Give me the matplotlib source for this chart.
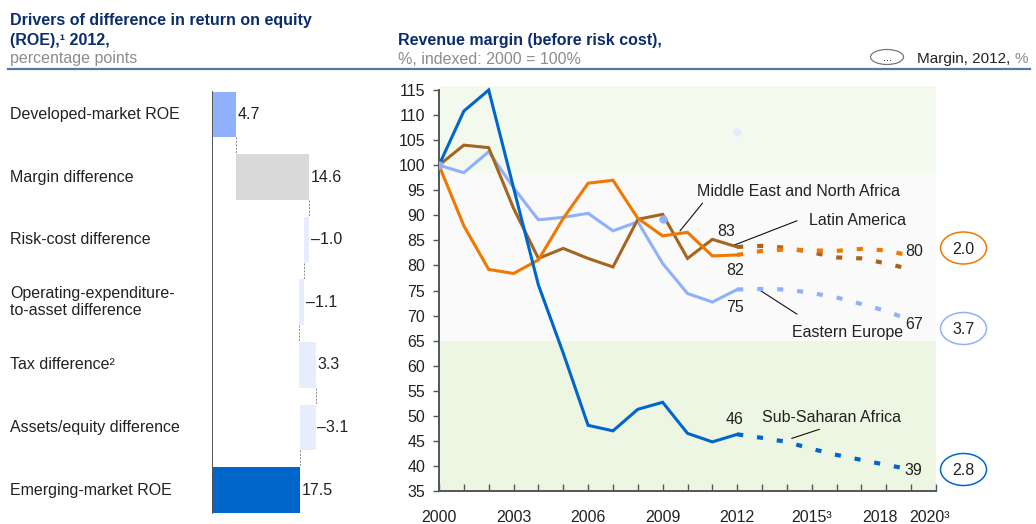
import matplotlib.pyplot as plt
from matplotlib.patches import Ellipse
from matplotlib import transforms

plt.rcParams['font.family'] = ['Liberation Sans', 'DejaVu Sans']
plt.rcParams['font.size'] = 11.5

## waterfall: drivers of ROE difference, 2012
drivers = ["Developed-market ROE", "Margin difference", "Risk-cost difference",
           "Operating-expenditure-\nto-asset difference", "Tax difference\u00b2",
           "Assets/equity difference", "Emerging-market ROE"]
driver_vals = [4.7, 14.6, -1.0, -1.1, 3.3, -3.1, 17.5]
driver_colors = ["#8fb0fb", "#d9d9d9", "#e6edfc", "#e6edfc", "#e6edfc", "#e6edfc", "#0066cc"]

## revenue margin, indexed 2000 = 100
years = list(range(2000, 2013))
ssa = [100, 110.8, 115, 95.5, 76.1, 62.5, 48.1, 47.0, 51.3, 52.7, 46.5, 44.8, 46.3]
ee = [100, 98.5, 102.7, 95.5, 89.1, 89.6, 90.4, 86.9, 88.7, 80.4, 74.4, 72.7, 75.2]
mena = [100, 104.0, 103.5, 91.4, 81.4, 83.4, 81.4, 79.7, 89.2, 90.2, 81.4, 85.2, 83.7]
latam = [100, 87.9, 79.2, 78.4, 81.1, 89.4, 96.4, 97.0, 89.4, 85.9, 86.6, 81.9, 82.1]

## forecast
fyears = list(range(2012, 2020))
ssa_f = [46.3, 45.6, 44.8, 43.4, 42.2, 41.2, 40.2, 39.3]
ee_f = [75.2, 75.3, 75.2, 74.5, 73.6, 72.3, 70.9, 69.0]
mena_f = [83.7, 83.9, 83.5, 82.6, 81.6, 81.4, 80.4, 79.2]
latam_f = [82.1, 82.9, 83.2, 83.0, 82.9, 83.3, 83.0, 81.9]

end_labels = ["80", "67", "39"]
margins_2012 = ["2.0", "3.7", "2.8"]

xtick_labels = {2000: "2000", 2003: "2003", 2006: "2006", 2009: "2009", 2012: "2012",
                2015: "2015\u00b3", 2018: "2018", 2020: "2020\u00b3"}

C_SSA = "#0066cc"
C_EE = "#8fb0fb"
C_MENA = "#a4661f"
C_LATAM = "#f07800"
NAVY = "#0b2d6b"
GREY = "#8c8c8c"

W, H = 1036, 524
fig = plt.figure(figsize=(W / 100, H / 100), dpi=100)

def box(l, t, r, b):
    return [l / W, 1 - b / H, (r - l) / W, (b - t) / H]

## overlay for headers, pixel coords
ov = fig.add_axes([0, 0, 1, 1])
ov.set_xlim(0, W)
ov.set_ylim(H, 0)
ov.axis("off")
ov.text(10, 20, "Drivers of difference in return on equity", fontweight="bold", color=NAVY, va="center")
ov.text(10, 40, "(ROE),\u00b9 2012,", fontweight="bold", color=NAVY, va="center")
ov.text(10, 59, "percentage points", color=GREY, va="center")
ov.text(398, 40, "Revenue margin (before risk cost),", fontweight="bold", color=NAVY, va="center")
ov.text(398, 59, "%, indexed: 2000 = 100%", color=GREY, va="center")
ov.add_patch(Ellipse((887, 57), 33, 15, fill=False, ec="#777777", lw=0.9))
ov.text(887, 58, "...", ha="center", va="center", fontsize=8)
leg = ov.text(917, 59, "Margin, 2012, ", va="center", color="#222222", fontsize=11)
ov.annotate("%", xy=(1, 0.5), xycoords=leg, va="center", ha="left", color=GREY, fontsize=11)
ov.plot([8, 1030], [68.5, 68.5], color="#5876a8", lw=1.6)

## ---- waterfall
ax1 = fig.add_axes(box(212, 84, 390, 521))
ax1.set_xlim(0, 178 / 5.05)
ax1.set_ylim(6.494, -0.487)
ax1.axis("off")

running = 0
ends = []
for i, v in enumerate(driver_vals):
    if i == 0 or i == len(driver_vals) - 1:
        left, right = 0, v
        running = v
    else:
        left, right = running, running + v
        running = running + v
    ax1.barh(i, right - left, left=left, height=0.73, color=driver_colors[i])
    lab = ("%.1f" % v).replace("-", "\u2013")
    ax1.text(max(left, right) + 0.3, i, lab, va="center", ha="left", color="#222222")
    ends.append(right)

for i in range(len(driver_vals) - 1):
    ax1.plot([ends[i], ends[i]], [i + 0.365, i + 0.635], color="#888888", lw=0.7, ls=(0, (2, 1.5)))

ax1.plot([0, 0], [-0.36, 6.37], color="#555555", lw=1.4)

tr = transforms.blended_transform_factory(fig.transFigure, ax1.transData)
for i, name in enumerate(drivers):
    ax1.text(10 / W, i, name, transform=tr, va="center", ha="left", color="#222222",
             linespacing=1.15)

## ---- line chart
ax2 = fig.add_axes(box(439, 86, 936, 491))
ax2.set_xlim(2000, 2020)
ax2.set_ylim(35, 115.8)
ax2.axhspan(35, 65, color="#edf6e2", lw=0, zorder=0)
ax2.axhspan(65, 98.4, color="#fafafa", lw=0, zorder=0)
ax2.axhspan(98.4, 115.8, color="#f4f9ee", lw=0, zorder=0)

for vals, fvals, col in [(ee, ee_f, C_EE), (mena, mena_f, C_MENA),
                         (latam, latam_f, C_LATAM), (ssa, ssa_f, C_SSA)]:
    ax2.plot(years, vals, color=col, lw=2.2, solid_joinstyle="miter", zorder=3)
    ax2.plot(fyears, fvals, color=col, lw=3, ls=(0, (1.45, 3.35)), dash_capstyle="butt", zorder=3)

ax2.plot([2000, 2009], [ee[0], 89.2], "o", color=C_EE, ms=5, zorder=4)
ax2.plot([2012], [106.6], "o", color="#e2ecfd", ms=5, zorder=2)

for s in ["top", "right"]:
    ax2.spines[s].set_visible(False)
for s in ["left", "bottom"]:
    ax2.spines[s].set_color("#555555")
    ax2.spines[s].set_linewidth(1.4)
ax2.spines["left"].set_bounds(35, 115)

ax2.set_yticks(range(35, 116, 5))
ax2.tick_params(axis="y", direction="out", length=4, width=1, color="#555555",
                labelcolor="#222222", pad=6)
ax2.set_xticks(range(2000, 2021))
ax2.set_xticklabels([xtick_labels.get(y, "") for y in range(2000, 2021)])
ax2.tick_params(axis="x", direction="in", length=5, width=1, color="#555555",
                labelcolor="#222222", pad=14)
## last two year labels sit a bit left of their ticks in the original
for lbl, yr in zip(ax2.get_xticklabels(), range(2000, 2021)):
    if yr in (2018, 2020):
        lbl.set_transform(lbl.get_transform() + transforms.ScaledTranslation(-6 / 100, 0, fig.dpi_scale_trans))

## value labels
txt = dict(color="#222222", va="center")
ax2.text(2011.55, 86.7, "83", ha="center", **txt)
ax2.text(2011.9, 78.9, "82", ha="center", **txt)
ax2.text(2011.9, 71.6, "75", ha="center", **txt)
ax2.text(2011.9, 49.3, "46", ha="center", **txt)
for y, lab in zip([82.7, 68.2, 39.0], end_labels):
    ax2.text(2018.75, y, lab, ha="left", **txt)

## series names with leaders
ax2.text(2010.37, 94.7, "Middle East and North Africa", ha="left", **txt)
ax2.plot([2009.7, 2010.6], [86.9, 92.4], color="#111111", lw=0.8)
ax2.text(2014.9, 88.9, "Latin America", ha="left", **txt)
ax2.plot([2011.9, 2014.4], [84.1, 88.9], color="#111111", lw=0.8)
ax2.text(2014.2, 66.6, "Eastern Europe", ha="left", **txt)
ax2.plot([2012.9, 2014.4], [75.1, 70.3], color="#111111", lw=0.8)
ax2.text(2013.0, 49.6, "Sub-Saharan Africa", ha="left", **txt)
ax2.plot([2014.2, 2015.3], [45.5, 47.3], color="#111111", lw=0.8)

## margin ellipses
for cy, lab, col in zip([248, 328.5, 469.5], margins_2012, [C_LATAM, C_EE, C_SSA]):
    ov.add_patch(Ellipse((963.5, cy), 46, 32, fill=False, ec=col, lw=1.1))
    ov.text(963.5, cy + 1, lab, ha="center", va="center", color="#222222")

fig.savefig("out.png", dpi=100)
